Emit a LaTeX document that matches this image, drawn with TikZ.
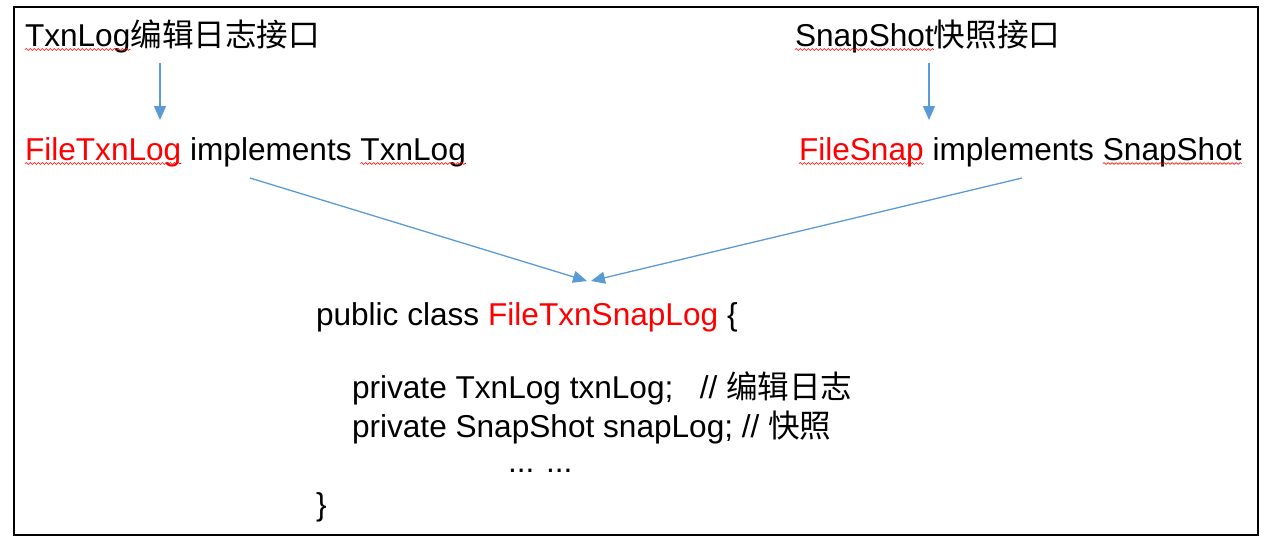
\documentclass[tikz,border=0pt]{standalone}
\usepackage{fontspec}
\setmainfont{Liberation Sans}
\newfontfamily\cjk{Noto Sans CJK SC}
\usetikzlibrary{arrows.meta,decorations.pathmorphing,calc}
\definecolor{arrowblue}{HTML}{5B9BD5}
\definecolor{txtred}{HTML}{FF0000}
\tikzset{
  txt/.style={inner sep=0pt, outer sep=0pt, anchor=base west, font=\fontsize{31.6pt}{38pt}\selectfont},
  redtxt/.style={txt, text=txtred},
  conn/.style={draw=arrowblue, line width=1.3pt, -{Triangle[length=14pt,width=12pt]}},
  squig/.style={draw=txtred, line width=0.6pt, decorate, decoration={snake, amplitude=0.9pt, segment length=4pt}},
  frame/.style={draw=black, line width=2.5pt}
}
\begin{document}
\begin{tikzpicture}[x=1pt,y=-1pt]
\useasboundingbox (0,0) rectangle (1272,542);
\draw[frame] (14,7) rectangle (1258,535);
% top line left
\node[txt] (a1) at (25,46) {TxnLog};
\node[txt] (a2) at (a1.base east) {\cjk 编辑日志接口};
% top line right
\node[txt] (b1) at (795,46) {SnapShot};
\node[txt] (b2) at (b1.base east) {\cjk 快照接口};
% second line left
\node[redtxt] (c1) at (25,160) {FileTxnLog};
\node[txt] (c2) at (c1.base east) {~implements~\mbox{}};
\node[txt] (c3) at (c2.base east) {TxnLog};
% second line right
\node[redtxt] (d1) at (799,160) {FileSnap};
\node[txt] (d2) at (d1.base east) {~implements~\mbox{}};
\node[txt] (d3) at (d2.base east) {SnapShot};
% code block
\node[txt] (e1) at (316,325) {public class~\mbox{}};
\node[redtxt] (e2) at (e1.base east) {FileTxnSnapLog};
\node[txt] (e3) at (e2.base east) {~\{};
\node[txt] (f) at (352,398) {private TxnLog txnLog;~~~// {\cjk 编辑日志}};
\node[txt] (g) at (352,437) {private SnapShot snapLog; // {\cjk 快照}};
\node[txt] (h) at (508,472) {... ...};
\node[txt] (i) at (316,515) {\}};
% squiggles
\foreach \n in {a1,b1,c1,c3,d1,d3}{
  \draw[squig] ([yshift=-3.5pt]\n.base west) -- ([yshift=-3.5pt]\n.base east);
}
% connector coordinates
\coordinate (aout) at (160,63);
\coordinate (cin) at (160,120);
\coordinate (bout) at (929,63);
\coordinate (din) at (929,120);
\coordinate (cout) at (250,178);
\coordinate (dout) at (1022,178);
\coordinate (ein1) at (587,281);
\coordinate (ein2) at (591,281);
\draw[conn] (aout) -- (cin);
\draw[conn] (bout) -- (din);
\draw[conn] (cout) -- (ein1);
\draw[conn] (dout) -- (ein2);
\end{tikzpicture}
\end{document}
